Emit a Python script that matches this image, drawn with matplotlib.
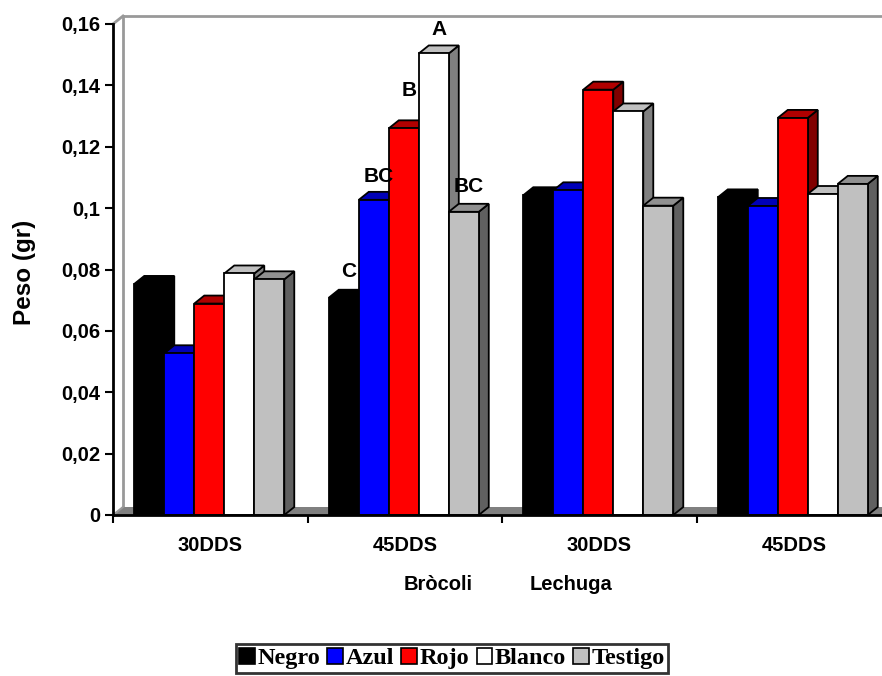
import numpy as np
import matplotlib
matplotlib.use("Agg")
import matplotlib.pyplot as plt
from matplotlib.patches import Patch

# ---------------- data ----------------
categories = ["30DDS", "45DDS", "30DDS", "45DDS"]
groups = ["Bròcoli", "Lechuga"]
series = ["Negro", "Azul", "Rojo", "Blanco", "Testigo"]
negro = [0.0753, 0.0708, 0.1042, 0.1035]
azul = [0.0527, 0.1027, 0.1058, 0.1007]
rojo = [0.0689, 0.1260, 0.1386, 0.1294]
blanco = [0.0787, 0.1504, 0.1315, 0.1046]
testigo = [0.0768, 0.0988, 0.1008, 0.1079]
values = [negro, azul, rojo, blanco, testigo]
yticks = [0, 0.02, 0.04, 0.06, 0.08, 0.10, 0.12, 0.14, 0.16]
# significance letters for the Bròcoli 45DDS group (category index 1)
letters = ["C", "BC", "B", "A", "BC"]
letter_cat = 1

# ---------------- styles ----------------
front_c = ["#000000", "#0000FF", "#FF0000", "#FFFFFF", "#C0C0C0"]
top_c = ["#000000", "#0000B8", "#B00000", "#C0C0C0", "#909090"]
side_c = ["#000000", "#000080", "#800000", "#808080", "#606060"]
letter_off = [19, 17, 27, 17, 18]  # points above bar top

W, H = 882, 676
fig = plt.figure(figsize=(W / 100, H / 100), dpi=100)
ax = fig.add_axes([113 / W, 161 / H, 778 / W, 491 / H])
ax.set_xlim(0, 4)
ax.set_ylim(0, 0.16)
ax.patch.set_alpha(0)

# depth of 3D effect in data units (10 px right, 8 px up)
dx = 10 / 194.5
dy = 8 / (491 / 0.16)
bw = 30 / 194.5
ncat = len(categories)

# wall & floor
wall_col = "#999999"
ax.plot([0, dx], [0.16, 0.16 + dy], color=wall_col, lw=2, clip_on=False, zorder=1)
ax.plot([dx, dx], [dy, 0.16 + dy], color=wall_col, lw=2, clip_on=False, zorder=1)
ax.plot([dx, ncat + dx], [0.16 + dy, 0.16 + dy], color=wall_col, lw=2, clip_on=False, zorder=1)
ax.fill([0, dx, ncat + dx, ncat], [0, dy, dy, 0], color="#808080", lw=0,
        clip_on=False, zorder=1)
ax.plot([0, dx], [0, dy], color=wall_col, lw=1.5, clip_on=False, zorder=1)

z = 3
for i in range(ncat):
    start = i + 0.495 - 2.5 * bw
    for j in range(len(series)):
        v = values[j][i]
        x0 = start + j * bw
        x1 = x0 + bw
        # side
        ax.fill([x1, x1 + dx, x1 + dx, x1], [0, dy, v + dy, v], facecolor=side_c[j],
                edgecolor="black", lw=1.3, zorder=z, clip_on=False)
        # top
        ax.fill([x0, x0 + dx, x1 + dx, x1], [v, v + dy, v + dy, v], facecolor=top_c[j],
                edgecolor="black", lw=1.3, zorder=z, clip_on=False)
        # front
        ax.fill([x0, x1, x1, x0], [0, 0, v, v], facecolor=front_c[j],
                edgecolor="black", lw=1.3, zorder=z + 0.5, clip_on=False)
        z += 1
        if i == letter_cat:
            ax.annotate(letters[j], (x0 + bw / 2 + dx / 2, v), xytext=(0, letter_off[j]),
                        textcoords="offset points", ha="center", va="center",
                        fontsize=15, fontweight="bold", family="Liberation Sans",
                        zorder=100)

# spines / axes
for s in ["top", "right"]:
    ax.spines[s].set_visible(False)
ax.spines["left"].set_linewidth(2)
ax.spines["bottom"].set_linewidth(2)
ax.spines["left"].set_zorder(200)
ax.spines["bottom"].set_zorder(200)

ax.set_yticks(yticks)
def fmt(v):
    s = f"{v:.2f}".rstrip("0").rstrip(".")
    return s.replace(".", ",")
ax.set_yticklabels([fmt(v) for v in yticks], fontsize=14.5, fontweight="bold",
                   family="Liberation Sans")
ax.tick_params(axis="y", direction="out", length=6, width=1.5, pad=3)

ax.set_xticks(np.arange(0, ncat + 1))
ax.set_xticklabels([])
ax.tick_params(axis="x", which="major", direction="out", length=6, width=1.5)
ax.set_xticks(np.arange(ncat) + 0.5, minor=True)
ax.set_xticklabels(categories, minor=True, fontsize=14.5, fontweight="bold",
                   family="Liberation Sans")
ax.tick_params(axis="x", which="minor", length=0, pad=15)

fig.text(24 / W, 1 - 272 / H, "Peso (gr)", rotation=90, ha="center", va="center",
         fontsize=17.5, fontweight="bold", family="Liberation Sans")
fig.text(438 / W, 1 - 585 / H, groups[0], ha="center", va="center",
         fontsize=14.5, fontweight="bold", family="Liberation Sans")
fig.text(571 / W, 1 - 585 / H, groups[1], ha="center", va="center",
         fontsize=14.5, fontweight="bold", family="Liberation Sans")

handles = [Patch(facecolor=front_c[j], edgecolor="black", lw=1.2) for j in range(len(series))]
leg = fig.legend(handles, series, loc="upper center", bbox_to_anchor=(452 / W, 1 - 644 / H),
                 ncol=5, frameon=True, fancybox=False, edgecolor="black",
                 prop={"family": "Liberation Serif", "weight": "bold", "size": 17.5},
                 handlelength=0.65, handleheight=0.65, handletextpad=0.1,
                 columnspacing=0.3, borderpad=0.15, borderaxespad=0)
leg.get_frame().set_linewidth(2)

fig.savefig("out.png", dpi=100)
